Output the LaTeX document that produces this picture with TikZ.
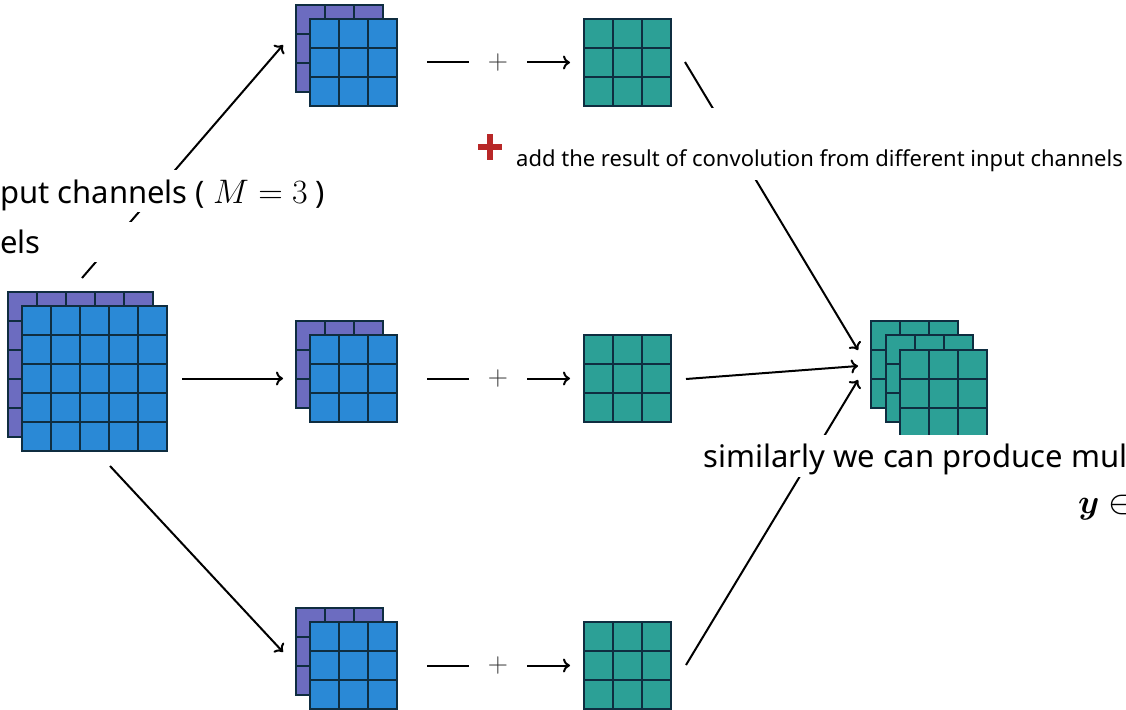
\RequirePackage{fix-cm}
\documentclass[tikz,border=0pt]{standalone}
\usepackage{amsmath,bm}
\usepackage{fontspec}
\setmainfont{Noto Sans}
\usetikzlibrary{arrows.meta}
\definecolor{gpurple}{HTML}{6C6CC0}
\definecolor{gblue}{HTML}{2A89D6}
\definecolor{gteal}{HTML}{2CA096}
\definecolor{gline}{HTML}{0F2D40}
\definecolor{pred}{HTML}{B82828}
\newcommand\cellgrid[5]{%
  \node[gridbox, fill=#4, minimum size=#3*29pt, anchor=north west] (#5) at (#1,#2) {};
  \pgfmathtruncatemacro\gridlast{#3-1}%
  \foreach \k in {1,...,\gridlast}{%
    \draw[gridrule] ({#1+\k*29},#2) -- ++(0,#3*29);
    \draw[gridrule] (#1,{#2+\k*29}) -- ++(#3*29,0);
  }%
}
\newcommand\bigmath[1]{{\fontsize{34}{40}\selectfont$#1$}}
\begin{document}
\begin{tikzpicture}[x=1pt,y=-1pt,
  gridbox/.style={draw=gline, line width=2.5pt, inner sep=0pt, outer sep=0pt},
  gridrule/.style={draw=gline, line width=2.5pt},
  conn/.style={draw=black, line width=2pt},
  arr/.style={conn, -{To[length=7pt,width=14pt]}},
  bigtext/.style={font=\fontsize{31}{37}\selectfont, inner sep=0pt, fill=white},
  smalltext/.style={font=\fontsize{22}{26}\selectfont, inner sep=0pt, fill=white},
  plusnode/.style={fill=white, inner sep=0pt, minimum width=58pt, text=black!80, font=\fontsize{28}{32}\selectfont},
  redplus/.style={draw=pred, line width=6pt}]
\useasboundingbox (0,0) rectangle (1126,709);

% input stack
\cellgrid{8}{292}{5}{gpurple}{inB}
\cellgrid{22}{306}{5}{gblue}{inF}

% kernel stacks
\cellgrid{296}{5}{3}{gpurple}{kb1}
\cellgrid{310}{19}{3}{gblue}{kf1}
\cellgrid{296}{321}{3}{gpurple}{kb2}
\cellgrid{310}{335}{3}{gblue}{kf2}
\cellgrid{296}{608}{3}{gpurple}{kb3}
\cellgrid{310}{622}{3}{gblue}{kf3}

% results
\cellgrid{584}{19}{3}{gteal}{t1}
\cellgrid{584}{335}{3}{gteal}{t2}
\cellgrid{584}{622}{3}{gteal}{t3}

% output stack
\cellgrid{871}{321}{3}{gteal}{o1}
\cellgrid{886}{335}{3}{gteal}{o2}
\cellgrid{900}{350}{3}{gteal}{o3}

% coordinates for free ends
\coordinate (s1) at (82,278);
\coordinate (e1) at (283,45);
\coordinate (s3) at (110,466);
\coordinate (e3) at (283,652);
\coordinate (q1) at (685,62);
\coordinate (q2) at (686,379);
\coordinate (q3) at (686,665);
\coordinate (r1) at (858,350);
\coordinate (r2) at (858,366);
\coordinate (r3) at (858,380);

% input to kernels
\draw[arr] (s1) -- (e1);
\draw[arr, shorten <=15pt, shorten >=27pt] (inF.east) -- (kf2.west);
\draw[arr] (s3) -- (e3);

% kernels to results
\node[plusnode] (p1) at (498,62.5) {$+$};
\node[plusnode] (p2) at (498,378.5) {$+$};
\node[plusnode] (p3) at (498,665.5) {$+$};
\draw[conn, shorten <=30pt] (kf1.east) -- (p1.west);
\draw[arr, shorten >=14pt] (p1.east) -- (t1.west);
\draw[conn, shorten <=30pt] (kf2.east) -- (p2.west);
\draw[arr, shorten >=14pt] (p2.east) -- (t2.west);
\draw[conn, shorten <=30pt] (kf3.east) -- (p3.west);
\draw[arr, shorten >=14pt] (p3.east) -- (t3.west);

% results to output
\draw[arr] (q1) -- (r1);
\draw[arr] (q2) -- (r2);
\draw[arr] (q3) -- (r3);

% labels
\node[bigtext, anchor=base west, text height=33pt, text depth=9pt] (lblM) at (0,203) {put channels ( \bigmath{M = 3} )};
\node[bigtext, anchor=base west, text height=31pt, text depth=9pt, text width=140pt, align=left] (lblels) at (0,253) {els};
\node[smalltext, anchor=base west, text height=58pt, text depth=14pt] (lbladd) at (516,166) {add the result of convolution from different input channels};
\draw[redplus] (478,147) -- (502,147);
\draw[redplus] (490,134) -- (490,160);
\node[bigtext, anchor=base west, text height=32pt, text depth=10pt] (lblsim) at (703,467) {similarly we can produce mul};
\node[bigtext, anchor=base west, fill=none] (lbly) at (1078,513) {\bigmath{\boldsymbol{y} \in}};
\end{tikzpicture}
\end{document}
